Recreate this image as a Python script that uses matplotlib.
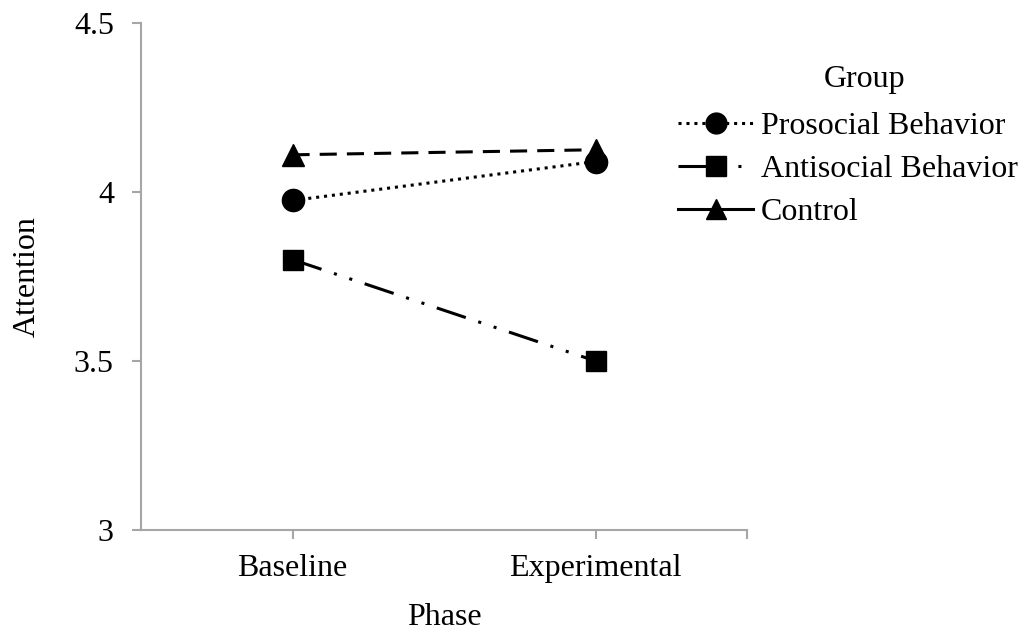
import matplotlib.pyplot as plt
from matplotlib.lines import Line2D

plt.rcParams['font.family'] = ['Liberation Serif', 'DejaVu Serif']
plt.rcParams['font.size'] = 23

# data
phases = ['Baseline', 'Experimental']
phase_pos = [0.25, 0.75]
groups = ['Prosocial Behavior', 'Antisocial Behavior', 'Control']
prosocial = [3.975, 4.09]
antisocial = [3.80, 3.50]
control = [4.11, 4.125]

y_ticks = [3, 3.5, 4, 4.5]
y_labels = ['3', '3.5', '4', '4.5']

axis_grey = '#a6a6a6'

fig = plt.figure(figsize=(10.33, 6.41), dpi=100)
ax = fig.add_axes([141 / 1033, 1 - 530 / 641, (747 - 141) / 1033, (530 - 23) / 641])

# each series: values, marker, dash pattern
ax.plot(phase_pos, control, color='black', lw=2.2, marker='^', ms=16,
        dashes=(5.6, 3.3), zorder=3)
ax.plot(phase_pos, prosocial, color='black', lw=2.2, marker='o', ms=16,
        dashes=(1, 1.6), zorder=4)
ax.plot(phase_pos, antisocial, color='black', lw=2.2, marker='s', ms=15,
        dashes=(10, 4.3, 1, 4.3, 1, 4.3), zorder=3)

ax.set_xlim(0, 1)
ax.set_ylim(3, 4.5)
ax.set_xticks(phase_pos + [1.0])
ax.set_xticklabels(phases + [''])
ax.set_yticks(y_ticks)
ax.set_yticklabels(y_labels)

for side in ['top', 'right']:
    ax.spines[side].set_visible(False)
for side in ['left', 'bottom']:
    ax.spines[side].set_color(axis_grey)
    ax.spines[side].set_linewidth(1.5)
ax.tick_params(axis='both', colors=axis_grey, labelcolor='black',
               direction='out', length=6.5, width=1.5)
ax.tick_params(axis='y', pad=13)
ax.tick_params(axis='x', pad=11)

ax.set_xlabel('Phase', labelpad=14)
ax.set_ylabel('Attention', labelpad=23)

# legend (proxy handles, the reference shows solid control line in the key)
handles = [
    Line2D([], [], color='black', lw=2.2, marker='o', ms=15, dashes=(1, 1.6)),
    Line2D([], [], color='black', lw=2.2, marker='s', ms=14,
           dashes=(10, 4.3, 1, 4.3, 1, 4.3)),
    Line2D([], [], color='black', lw=2.2, marker='^', ms=15),
]
leg = fig.legend(handles, groups, loc='upper left',
                 bbox_to_anchor=(678 / 1033, 1 - 112 / 641),
                 frameon=False, handlelength=2.35, handletextpad=0.25,
                 labelspacing=0.42, borderaxespad=0, borderpad=0)
fig.text(865 / 1033, 1 - 80 / 641, 'Group', ha='center', va='center')

fig.savefig('out.png', dpi=100)
